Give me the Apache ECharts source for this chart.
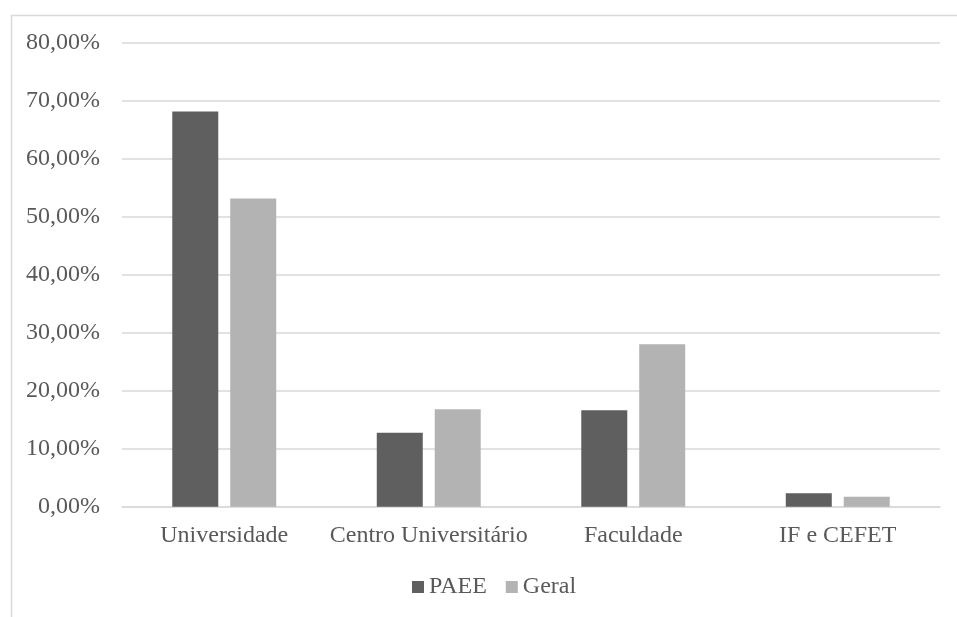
<!DOCTYPE html>
<html>
<head>
<meta charset="utf-8">
<script src="https://cdn.jsdelivr.net/npm/echarts@6/dist/echarts.min.js"></script>
<style>
  html, body { margin: 0; padding: 0; background: #fff; }
  #chart { width: 957px; height: 617px; }
</style>
</head>
<body>
<div id="chart"></div>
<script>
// categorias e valores (%)
const categories = ['Universidade', 'Centro Universitário', 'Faculdade', 'IF e CEFET']
const paee = [68.1, 12.75, 16.6, 2.3]
const geral = [53.1, 16.8, 28.0, 1.7]

const textColor = '#595959'
const font = '"Liberation Serif", "Times New Roman", serif'

const chart = echarts.init(document.getElementById('chart'))
chart.setOption({
  animation: false,
  textStyle: { fontFamily: font },
  /* moldura do gráfico, cortada à direita e embaixo */
  graphic: [
    {
      type: 'rect',
      left: 9,
      top: 13,
      shape: { width: 1000, height: 700 },
      style: { fill: 'none', stroke: '#d9d9d9', lineWidth: 1.5 },
      silent: true
    }
  ],
  grid: {
    left: 122,
    right: 17,
    top: 42.3,
    bottom: 110.3
  },
  legend: {
    bottom: 13,
    left: 407,
    icon: 'rect',
    itemWidth: 12,
    itemHeight: 12,
    itemGap: 19,
    textStyle: { color: textColor, fontSize: 24, fontFamily: font },
    data: ['PAEE', 'Geral']
  },
  xAxis: {
    type: 'category',
    data: categories,
    axisLine: { lineStyle: { color: '#d9d9d9', width: 1.5 } },
    axisTick: { show: false },
    axisLabel: { color: textColor, fontSize: 24, fontFamily: font, margin: 17, interval: 0 }
  },
  yAxis: {
    type: 'value',
    min: 0,
    max: 80,
    interval: 10,
    axisLine: { show: false },
    axisTick: { show: false },
    splitLine: { lineStyle: { color: '#d9d9d9', width: 1.5 } },
    axisLabel: {
      color: textColor,
      fontSize: 24,
      fontFamily: font,
      margin: 22,
      formatter: v => v.toFixed(2).replace('.', ',') + '%'
    }
  },
  series: [
    {
      name: 'PAEE',
      type: 'bar',
      data: paee,
      barWidth: 46,
      barGap: '26%',
      itemStyle: { color: '#5f5f5f' }
    },
    {
      name: 'Geral',
      type: 'bar',
      data: geral,
      barWidth: 46,
      itemStyle: { color: '#b3b3b3' }
    }
  ]
})
</script>
</body>
</html>
